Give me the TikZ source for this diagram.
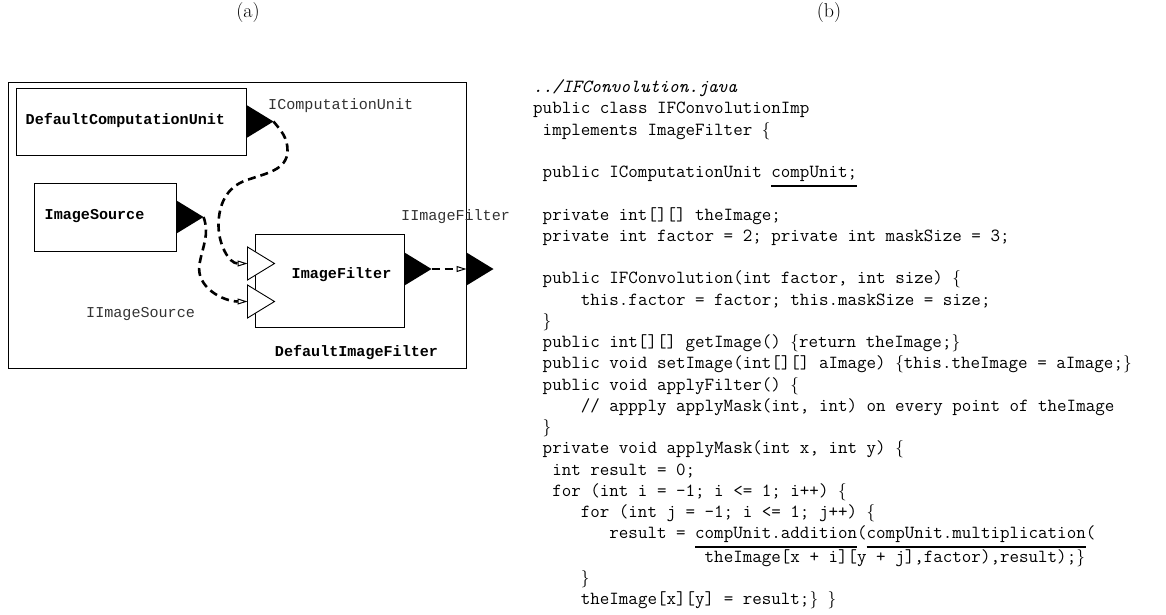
\documentclass[tikz,border=0pt]{standalone}
\usepackage{fontspec}
\usepackage{tikz}
\usetikzlibrary{arrows.meta,calc}
\newfontfamily\courier{Liberation Mono}
\newcommand\codeind[1]{\hspace*{#1\fontdimen2\font}}
\newcommand\codeul[1]{\vtop{\hbox{#1}\kern3pt\hrule height 2pt}}
\newcommand\obr{$\{$}
\newcommand\cbr{$\}$}

\begin{document}
\begin{tikzpicture}[x=1pt, y=-1pt,
    unit/.style={draw, line width=1, inner sep=0},
    unitname/.style={font=\fontsize{15.1}{17}\selectfont\courier\bfseries, inner sep=0},
    portname/.style={font=\fontsize{15.1}{17}\selectfont\courier, text=black!80, inner sep=0},
    link/.style={line width=2.6, dash pattern=on 8pt off 5pt,
      -{Triangle[open, length=10pt, width=6pt, line width=1pt]}},
    code/.style={font=\fontsize{18.5}{21.25}\selectfont\ttfamily, align=left, inner sep=0},
    pics/port/.style={code={
      \path[pic actions] (0,-16.5) -- (27,0) -- (0,16.5) -- cycle;
      \coordinate (-tip) at (27,0);
      \coordinate (-base) at (0,0);
    }}]
    \useasboundingbox (0,0) rectangle (1166,614);
    \node[font=\fontsize{20}{24}\selectfont] (tagA) at (248,13) {(a)};
    \node[font=\fontsize{20}{24}\selectfont] (tagB) at (829,13) {(b)};

    \node[unit, minimum width=458, minimum height=286] (outer) at (237,225) {};
    \node[unit, minimum width=230, minimum height=67] (dcu) at (131,121.5) {};
    \node[unit, minimum width=142, minimum height=68] (src) at (105,217) {};
    \node[unit, minimum width=149, minimum height=93] (filter) at (329.5,280.5) {};
    \node[unitname, anchor=west] (dcuname) at ($(dcu.west)+(10,-1)$) {DefaultComputationUnit};
    \node[unitname, anchor=west] (srcname) at ($(src.west)+(11,-1)$) {ImageSource};
    \node[unitname, anchor=west] (filtername) at ($(filter.west)+(37,-5.5)$) {ImageFilter};
    \node[unitname] (outername) at (356.5,353) {DefaultImageFilter};

    \pic[fill=black] (dcup) at (dcu.east) {port};
    \pic[fill=black] (srcp) at (src.east) {port};
    \pic[fill=black] (outp) at ($(filter.east)+(0,-11.5)$) {port};
    \pic[fill=black] (extp) at (outer.east |- outp-tip) {port};
    \pic[draw, fill=white, line width=0.9] (in1) at ($(filter.west)+(-7,-17)$) {port};
    \pic[draw, fill=white, line width=0.9] (in2) at ($(filter.west)+(-7,21)$) {port};

    \node[portname, anchor=west] (icu) at (268,106) {IComputationUnit};
    \node[portname, anchor=west] (iif) at (401,217) {IImageFilter};
    \node[portname, anchor=west] (iis) at (86,314) {IImageSource};

    \draw[link] (dcup-tip) to[out=-50,in=90] ++(14,29)
      to[out=-90,in=20] ++(-42,30)
      to[out=200,in=90] ++(-27,45)
      to[out=-90,in=180] (in1-base);
    \draw[link] (srcp-tip) to[out=-70,in=80] ++(-4,47)
      to[out=-100,in=180] (in2-base);
    \draw[link] (outp-tip) -- (extp-base);

    \node[code, anchor=north west] (listing) at (533,77.6) {%
      \strut\textit{../IFConvolution.java}\\
      public class IFConvolutionImp\\
      \codeind{1}implements ImageFilter \obr\\
      \mbox{}\\
      \codeind{1}public IComputationUnit \codeul{compUnit;}\\
      \mbox{}\\
      \codeind{1}private int[][] theImage;\\
      \codeind{1}private int factor = 2; private int maskSize = 3;\\
      \mbox{}\\
      \codeind{1}public IFConvolution(int factor, int size) \obr\\
      \codeind{5}this.factor = factor; this.maskSize = size;\\
      \codeind{1}\cbr\\
      \codeind{1}public int[][] getImage() \obr return theImage;\cbr\\
      \codeind{1}public void setImage(int[][] aImage) \obr this.theImage = aImage;\cbr\\
      \codeind{1}public void applyFilter() \obr\\
      \codeind{5}// appply applyMask(int, int) on every point of theImage\\
      \codeind{1}\cbr\\
      \codeind{1}private void applyMask(int x, int y) \obr\\
      \codeind{2}int result = 0;\\
      \codeind{2}for (int i = -1; i <= 1; i++) \obr\\
      \codeind{5}for (int j = -1; i <= 1; j++) \obr\\
      \codeind{8}result = \codeul{compUnit.addition}(\codeul{compUnit.multiplication}(\\
      \codeind{18}theImage[x + i][y + j],factor),result);\cbr\\
      \codeind{5}\cbr\\
      \codeind{5}theImage[x][y] = result;\cbr{} \cbr};
  \end{tikzpicture}
\end{document}
